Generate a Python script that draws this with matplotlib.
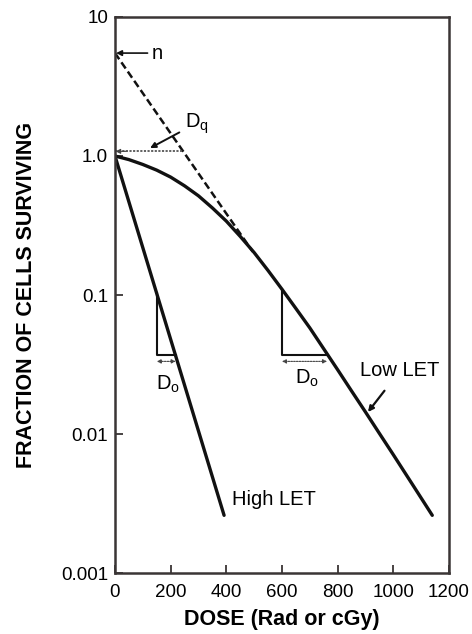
import matplotlib
matplotlib.use("Agg")
import matplotlib.pyplot as plt

plt.rcParams['font.family'] = ['Liberation Sans', 'DejaVu Sans']
plt.rcParams['mathtext.fontset'] = 'custom'
plt.rcParams['mathtext.rm'] = 'Liberation Sans'
plt.rcParams['mathtext.it'] = 'Liberation Sans'

# ---- data ----
low_let_dose = [0, 50, 100, 150, 200, 250, 300, 350, 400, 450, 500, 550, 600,
                650, 700, 750, 800, 850, 900, 950, 1000, 1070, 1140]
low_let_surv = [1.0, 0.942, 0.869, 0.791, 0.705, 0.610, 0.517, 0.423, 0.340,
                0.264, 0.202, 0.150, 0.110, 0.080, 0.058, 0.041, 0.029, 0.0204,
                0.0144, 0.0101, 0.0071, 0.0043, 0.0026]

high_let_dose = [0, 392]
high_let_surv = [1.0, 0.0026]

extrap_dose = [0, 495]
extrap_surv = [5.5, 0.205]

dq_dose = [0, 244]
dq_surv = [1.08, 1.08]

# D0 triangles: (start dose, end dose, top survival, bottom survival)
high_tri = (150, 218, 0.103, 0.037)
low_tri = (600, 762, 0.110, 0.037)

x_ticks = [0, 200, 400, 600, 800, 1000, 1200]
y_ticks = [0.001, 0.01, 0.1, 1.0, 10]
y_tick_labels = ['0.001', '0.01', '0.1', '1.0', '10']

fig = plt.figure(figsize=(4.72, 6.34), dpi=100)
ax = fig.add_axes([0.2436, 0.0962, 0.7076, 0.877])

ax.set_yscale('log')
ax.set_xlim(0, 1200)
ax.set_ylim(0.001, 10)

ink = '#111111'
ax.plot(low_let_dose, low_let_surv, color=ink, lw=2.4, solid_capstyle='round',
        solid_joinstyle='round')
ax.plot(high_let_dose, high_let_surv, color=ink, lw=2.4, solid_capstyle='round')
ax.plot(extrap_dose, extrap_surv, color=ink, lw=1.8, ls=(0, (3, 1.5)))
ax.plot(dq_dose, dq_surv, color='#555555', lw=1.3, ls=(0, (1.2, 0.8)))
ax.annotate('', xy=(2, dq_surv[0]), xytext=(40, dq_surv[0]),
            arrowprops=dict(arrowstyle='-|>', color='#444444', lw=0.8,
                            mutation_scale=7, shrinkA=0, shrinkB=0))

for (d0, d1, top, bot) in (high_tri, low_tri):
    ax.plot([d0, d0, d1], [top, bot, bot], color=ink, lw=1.5)
    ax.annotate('', xy=(d0, bot * 0.9), xytext=(d1, bot * 0.9),
                arrowprops=dict(arrowstyle='<|-|>', color='#444444', lw=0.8,
                                ls=(0, (1.5, 1)), mutation_scale=6,
                                shrinkA=0, shrinkB=0))

# labels
fs = 14.5
ax.annotate('n', xy=(4, 5.5), xytext=(132, 5.5), fontsize=fs, va='center', ha='left',
            arrowprops=dict(arrowstyle='-|>', color=ink, lw=1.2, mutation_scale=8,
                            shrinkA=1, shrinkB=0))
ax.annotate(r'$\mathregular{D_q}$', xy=(126, 1.14), xytext=(250, 1.72), fontsize=fs,
            va='center', ha='left',
            arrowprops=dict(arrowstyle='-|>', color=ink, lw=1.4, mutation_scale=8,
                            shrinkA=2, shrinkB=0))
ax.annotate('Low LET', xy=(909, 0.0144), xytext=(1024, 0.0285), fontsize=fs,
            va='center', ha='center',
            arrowprops=dict(arrowstyle='-|>', color=ink, lw=1.6, mutation_scale=8,
                            shrinkA=7, shrinkB=0))
ax.text(420, 0.0034, 'High LET', fontsize=fs, va='center', ha='left')
ax.text(190, 0.0228, r'$\mathregular{D_o}$', fontsize=fs, va='center', ha='center')
ax.text(690, 0.0250, r'$\mathregular{D_o}$', fontsize=fs, va='center', ha='center')

# axes styling
spine_c = '#3a3535'
for s in ax.spines.values():
    s.set_color(spine_c)
    s.set_linewidth(1.8)
ax.set_xticks(x_ticks)
ax.set_xticklabels([str(v) for v in x_ticks])
ax.set_yticks(y_ticks)
ax.set_yticklabels(y_tick_labels)
ax.yaxis.set_minor_locator(matplotlib.ticker.NullLocator())
ax.tick_params(axis='both', which='major', direction='in', length=6, width=1.3,
               color=spine_c, labelsize=13.5, top=False, right=False)
ax.tick_params(axis='x', pad=8)
ax.tick_params(axis='y', pad=5)

ax.set_xlabel('DOSE (Rad or cGy)', fontsize=15.5, fontweight='bold', labelpad=6)
ax.set_ylabel('FRACTION OF CELLS SURVIVING', fontsize=15.5, fontweight='bold', labelpad=17)

fig.savefig('out.png', dpi=100)
